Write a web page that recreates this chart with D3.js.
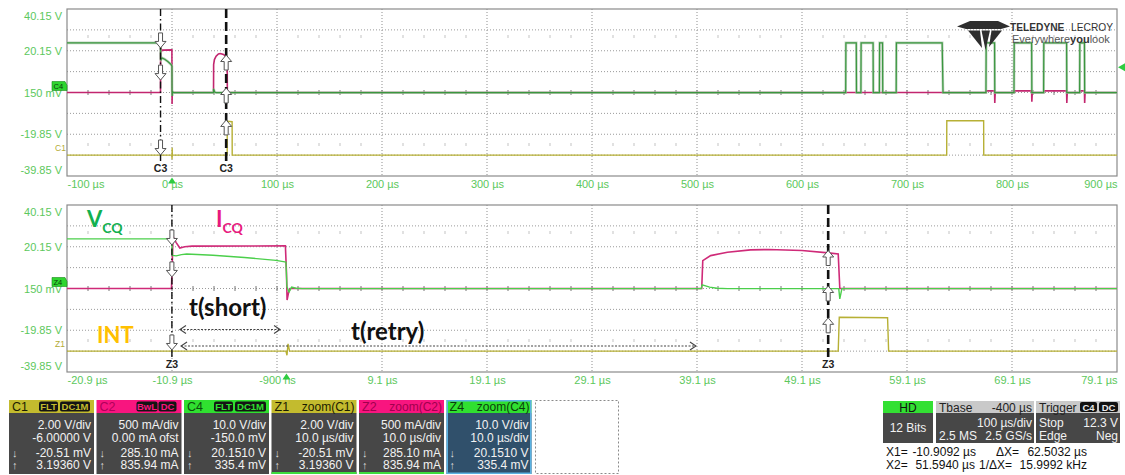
<!DOCTYPE html>
<html><head><meta charset="utf-8">
<script src="https://cdn.jsdelivr.net/npm/d3@7"></script>
<style>
body{margin:0;background:#fff;}
svg{display:block;font-family:"Liberation Sans",Arial,sans-serif;}
</style></head><body>
<svg id="c" width="1125" height="475"></svg>
<script>
// ---------------- data ----------------
// C4 / Z4 : V(CQ) in volts, time in microseconds
const vcqTime = [-100, -10.95, -10.85, -10.5, -10.0, -9.5, -7.0, -4.0, -1.0, -0.3, -0.05, 0.05, 0.25, 0.5, 0.9, 1.5,
  39.5, 39.6, 40.3, 41.0, 42.0, 52.6, 52.7, 52.9,
  641.6, 641.8, 651.7, 651.9, 656.1, 656.3, 667.7, 667.9, 673.7, 673.9, 676.7, 676.9,
  689.7, 689.9, 733.5, 734.3, 775.2, 775.4, 783.4, 783.6, 801.9, 802.1, 818.7, 818.9,
  830.1, 830.3, 852.0, 852.2, 864.4, 864.6, 869.0, 869.2, 900];
const vcqVolt = [23.9, 23.9, 16.0, 15.8, 16.4, 16.7, 16.1, 15.0, 13.6, 13.0, 12.8, 1.0, -1.5, 0.8, 0.3, 0.1,
  0.1, 1.9, 0.8, 0.3, 0.1, 0.1, -4.8, 0.1,
  0.1, 23.9, 23.9, 0.1, 0.1, 23.9, 23.9, 0.1, 0.1, 23.9, 23.9, 0.1,
  0.1, 23.9, 23.9, 0.1, 0.1, 23.9, 23.9, 0.1, 0.1, 23.9, 23.9, 0.1,
  0.1, 23.9, 23.9, 0.1, 0.1, 23.9, 23.9, 0.1, 0.1];
// C2 / Z2 : I(CQ) in mA
const icqTime = [-100, -10.95, -10.8, -10.5, -10.15, -9.7, -9.0, -0.1, 0.0, 0.06, 0.2, 0.35,
  39.55, 39.65, 40.4, 42.0, 44.2, 45.9, 49.1, 51.6, 52.55, 52.7, 53.0,
  775.2, 775.4, 783.4, 783.6, 784.0, 801.9, 802.1, 818.7, 818.9, 819.3,
  830.1, 830.3, 852.0, 852.2, 852.6, 864.4, 864.6, 869.0, 869.2, 869.6, 900];
const icqMilliamp = [0, 0, 1240, 1100, 970, 1000, 1015, 1020, 400, -275, -100, 0,
  0, 668, 788, 870, 925, 934, 910, 853, 829, 0, 0,
  0, 40, 40, -250, 0, 0, 40, 40, -220, 0,
  0, 40, 40, -250, 0, 0, 40, 40, -250, 0, 0];
// C1 / Z1 : INT in volts
const intTime = [-100, -0.05, 0.05, 0.15, 0.3, 52.55, 52.65, 57.25, 57.35, 737.8, 737.9, 773.0, 773.1, 900];
const intVolt = [0, 0, -0.4, 0.7, 0, 0, 3.25, 3.2, 0, 0, 3.3, 3.3, 0, 0];

const topTickValues = [-100, 0, 100, 200, 300, 400, 500, 600, 700, 800, 900];
const topTickLabels = ["-100 µs","0 µs","100 µs","200 µs","300 µs","400 µs","500 µs","600 µs","700 µs","800 µs","900 µs"];
const botTickValues = [-20.9, -10.9, -0.9, 9.1, 19.1, 29.1, 39.1, 49.1, 59.1, 69.1, 79.1];
const botTickLabels = ["-20.9 µs","-10.9 µs","-900 ns","9.1 µs","19.1 µs","29.1 µs","39.1 µs","49.1 µs","59.1 µs","69.1 µs","79.1 µs"];
const yTickValues = [40.15, 20.15, 0.15, -19.85, -39.85];
const yTickLabels = ["40.15 V","20.15 V","150 mV","-19.85 V","-39.85 V"];

const cursorTimes = [-10.9092, 51.5940];
// cursor/trace marker levels (in C4 volts) for [cursor1, cursor2]
const topMarkers = [[21.5, 6.1, -29.8], [18.1, 2.3, -13.0]];
const botMarkers = [[21.0, 5.7, -29.3], [18.35, 1.35, -13.9]];
const shortSpan = [-10.14, -0.61];
const retrySpan = [-10.04, 39.0];
const triggerLevel = 12.3;

// ---------------- drawing ----------------
const svg = d3.select("#c");
const L = 67, R = 1117;
const C_GREEN_TOP = "#3a973f", C_GREEN_BOT = "#4bcf4b", C_YEL = "#b7b035";
const LABEL_GREEN = "#5cc85c";

const zip = (a, b) => a.map((t, i) => [t, b[i]]);
const vcq = zip(vcqTime, vcqVolt), icq = zip(icqTime, icqMilliamp), intr = zip(intTime, intVolt);

const panels = [
  {id:"top", top:9, bottom:176, x:d3.scaleLinear().domain([-100, 900]).range([L, R]),
   ticks:topTickValues, labels:topTickLabels, tag:"C4", tag2:"C1", cl:"C3", green:C_GREEN_TOP, pink:"#c2266f", markers:topMarkers},
  {id:"bot", top:205, bottom:372, x:d3.scaleLinear().domain([-20.9, 79.1]).range([L, R]),
   ticks:botTickValues, labels:botTickLabels, tag:"Z4", tag2:"Z1", cl:"Z3", green:C_GREEN_BOT, pink:"#cf2a78", markers:botMarkers}
];

const defs = svg.append("defs");

panels.forEach(p => {
  const g = svg.append("g");
  const yV = d3.scaleLinear().domain([-39.85, 40.15]).range([p.bottom, p.top]);
  const yI = d3.scaleLinear().domain([-2000, 2000]).range([p.bottom, p.top]);
  const yC1 = d3.scaleLinear().domain([-2, 14]).range([p.bottom, p.top]);
  const x = p.x;
  const h = p.bottom - p.top, w = R - L;
  const cy = (p.top + p.bottom) / 2;

  defs.append("clipPath").attr("id", "clip-" + p.id)
    .append("rect").attr("x", L).attr("y", p.top).attr("width", w).attr("height", h);

  // grid
  const grid = g.append("g");
  d3.range(1, 10).forEach(i => {
    grid.append("line").attr("x1", L + i * w / 10).attr("x2", L + i * w / 10)
      .attr("y1", p.top).attr("y2", p.bottom)
      .attr("stroke", "#8f8f8f").attr("stroke-width", 1).attr("stroke-dasharray", "1,2");
  });
  d3.range(1, 8).forEach(i => {
    grid.append("line").attr("x1", L).attr("x2", R)
      .attr("y1", p.top + i * h / 8).attr("y2", p.top + i * h / 8)
      .attr("stroke", "#9a9a9a").attr("stroke-width", 1).attr("stroke-dasharray", "1,2");
  });
  d3.range(1, 50).forEach(k => {
    const xx = L + k * w / 50;
    grid.append("line").attr("x1", xx).attr("x2", xx).attr("y1", cy - 2.5).attr("y2", cy + 2.5)
      .attr("stroke", "#777").attr("stroke-width", 1);
    if (k % 5 !== 0) {
      [p.top + 27.5, p.top + 135.5].forEach(yy => {
        grid.append("rect").attr("x", xx - 0.5).attr("y", yy - 1.5).attr("width", 1).attr("height", 3)
          .attr("fill", "#c4c4c4");
      });
    }
  });
  g.append("rect").attr("x", L).attr("y", p.top).attr("width", w).attr("height", h)
    .attr("fill", "none").attr("stroke", "#8a8a8a").attr("stroke-width", 1.2);

  // traces
  const tr = g.append("g").attr("clip-path", `url(#clip-${p.id})`);
  tr.append("path").datum(intr)
    .attr("d", d3.line().x(d => x(d[0])).y(d => yC1(d[1])))
    .attr("fill", "none").attr("stroke", C_YEL).attr("stroke-width", 1.4);
  tr.append("path").datum(icq)
    .attr("d", d3.line().x(d => x(d[0])).y(d => yI(d[1])))
    .attr("fill", "none").attr("stroke", p.pink).attr("stroke-width", 1.6);
  if (p.id === "top") {
    tr.append("path").datum(vcq)
      .attr("d", d3.line().x(d => x(d[0])).y(d => yV(d[1])))
      .attr("fill", "none").attr("stroke", "#9fbf9f").attr("stroke-width", 2.6).attr("opacity", 0.7);
  }
  tr.append("path").datum(vcq)
    .attr("d", d3.line().x(d => x(d[0])).y(d => yV(d[1])))
    .attr("fill", "none").attr("stroke", p.green).attr("stroke-width", p.id === "top" ? 1.2 : 1.4);

  // cursors
  const cur = g.append("g");
  cursorTimes.forEach((t, ci) => {
    const cx = x(t);
    cur.append("line").attr("x1", cx).attr("x2", cx).attr("y1", p.top).attr("y2", p.bottom - 12)
      .attr("stroke", "#111").attr("stroke-width", ci === 0 ? 1.4 : 2.6)
      .attr("stroke-dasharray", ci === 0 ? "7,3,1.5,3" : "9,4");
    const down = ci === 0;
    p.markers[ci].forEach(v => {
      const ty = yV(v);
      const s = down ? -1 : 1;
      const d = `M${cx-2},${ty + s*15} L${cx+2},${ty + s*15} L${cx+2},${ty + s*6.5} L${cx+5.5},${ty + s*6.5} L${cx},${ty} L${cx-5.5},${ty + s*6.5} L${cx-2},${ty + s*6.5} Z`;
      cur.append("path").attr("d", d).attr("fill", "#fff").attr("stroke", "#555").attr("stroke-width", 1);
    });
    cur.append("text").attr("x", cx).attr("y", p.bottom - 4).attr("text-anchor", "middle")
      .attr("font-size", 10.5).attr("font-weight", "bold").attr("fill", "#222").text(p.cl);
  });

  // x axis
  const ax = g.append("g").attr("transform", `translate(0,${p.bottom})`)
    .call(d3.axisBottom(x).tickValues(p.ticks).tickFormat((d, i) => p.labels[i]).tickSize(0));
  ax.select(".domain").remove();
  ax.selectAll("text").attr("y", 8).attr("dy", "0.35em").attr("font-size", 11)
    .attr("fill", LABEL_GREEN).attr("font-family", "Liberation Sans, Arial, sans-serif")
    .attr("text-anchor", (d, i) => i === 0 ? "start" : (i === p.ticks.length - 1 ? "end" : "middle"));

  // y axis
  const ay = g.append("g").attr("transform", `translate(${L},0)`)
    .call(d3.axisLeft(yV).tickValues(yTickValues).tickFormat((d, i) => yTickLabels[i]).tickSize(0).tickPadding(5));
  ay.select(".domain").remove();
  ay.selectAll("text").attr("font-size", 11).attr("fill", LABEL_GREEN)
    .attr("font-family", "Liberation Sans, Arial, sans-serif")
    .attr("y", (d, i) => i === 0 ? 7 : (i === yTickValues.length - 1 ? -6 : 0));

  // channel tags
  const tg = g.append("g");
  tg.append("path").attr("d", `M${L-15},${yV(0.15)-11} h13 l2,4 v5 h-15 z`).attr("fill", "#2fd52f").attr("stroke", "#1a8a1a").attr("stroke-width", 0.6);
  tg.append("text").attr("x", L - 13.5).attr("y", yV(0.15) - 4).attr("font-size", 7.5).attr("fill", "#0d3d0d").text(p.tag);
  tg.append("text").attr("x", L - 12).attr("y", yC1(0) - 4).attr("font-size", 8.5).attr("fill", "#b3ab35").text(p.tag2);

  // trigger marker on time axis
  g.append("path").attr("d", `M${x(0)},${p.bottom + 1.5} l4,6 h-8 z`).attr("fill", "#2ecc40");
  if (p.id === "top") {
    const ty = yV(triggerLevel);
    g.append("path").attr("d", `M${R + 1},${ty} l7,-4 v8 z`).attr("fill", "#2ecc40");
  }

  // annotations in zoom panel
  if (p.id === "bot") {
    const an = g.append("g").attr("font-family", "Lato, 'Open Sans', sans-serif").attr("font-weight", "bold");
    const v = an.append("text").attr("x", 87).attr("y", 227).attr("fill", "#12b050").attr("font-size", 22);
    v.append("tspan").text("V");
    v.append("tspan").attr("font-size", 14).attr("dy", 6).text("CQ");
    const ic = an.append("text").attr("x", 216).attr("y", 227).attr("fill", "#e8197e").attr("font-size", 22);
    ic.append("tspan").text("I");
    ic.append("tspan").attr("font-size", 14).attr("dy", 6).text("CQ");
    an.append("text").attr("x", 97).attr("y", 343).attr("fill", "#ffc000").attr("font-size", 22).text("INT");
    an.append("text").attr("x", 189).attr("y", 316).attr("fill", "#111").attr("font-size", 24).text("t(short)");
    an.append("text").attr("x", 351).attr("y", 340).attr("fill", "#111").attr("font-size", 24).text("t(retry)");

    const arrowLine = (t0, t1, yy) => {
      const x0 = x(t0), x1 = x(t1);
      an.append("line").attr("x1", x0).attr("x2", x1).attr("y1", yy).attr("y2", yy)
        .attr("stroke", "#444").attr("stroke-width", 1.1).attr("stroke-dasharray", "2,1.5");
      an.append("path").attr("d", `M${x0+6},${yy-4} L${x0},${yy} L${x0+6},${yy+4}`)
        .attr("fill", "none").attr("stroke", "#444").attr("stroke-width", 1.1);
      an.append("path").attr("d", `M${x1-6},${yy-4} L${x1},${yy} L${x1-6},${yy+4}`)
        .attr("fill", "none").attr("stroke", "#444").attr("stroke-width", 1.1);
    };
    arrowLine(shortSpan[0], shortSpan[1], 329.5);
    arrowLine(retrySpan[0], retrySpan[1], 346);
  }
});

// ---------------- logo ----------------
const logo = svg.append("g").attr("fill", "#2e2e2e");
logo.append("path").attr("d", "M957,26.5 L970,21 L998,21 L1010,26.5 L1001,29 L966,29 Z");
logo.append("path").attr("d", "M968,30.5 L980,30.5 L982,48 Z");
logo.append("path").attr("d", "M981.5,30.5 L990,30.5 L985.5,50 Z");
logo.append("path").attr("d", "M991.5,30.5 L1002,30.5 L989,47 Z");
logo.append("text").attr("x", 1010).attr("y", 31).attr("font-size", 10.2).attr("font-weight", "bold")
  .attr("fill", "#333").text("TELEDYNE");
logo.append("text").attr("x", 1113).attr("y", 31).attr("text-anchor", "end").attr("font-size", 10.2)
  .attr("fill", "#333").text("LECROY");
const lt2 = logo.append("text").attr("x", 1012).attr("y", 42.5).attr("font-size", 11).attr("fill", "#555");
lt2.append("tspan").text("Everywhere");
lt2.append("tspan").attr("font-weight", "bold").attr("fill", "#333").text("you");
lt2.append("tspan").text("look");

// ---------------- info boxes ----------------
const boxes = [
  {x:9, name:"C1", right:"", hc:"#c3bb2e", tc:"#1c1c00", tags:[["FLT",30,19],["DC1M",51,30]], tagc:"#c3bb2e", body:"#474747", rows:["2.00 V/div","-6.00000 V","-20.51 mV","3.19360 V"]},
  {x:96.5, name:"C2", right:"", hc:"#f8157f", tc:"#b0005a", tags:[["BwL",40,21],["DC",62,18]], tagc:"#f8157f", body:"#474747", rows:["500 mA/div","0.00 mA ofst","285.10 mA","835.94 mA"]},
  {x:184, name:"C4", right:"", hc:"#30e030", tc:"#0b4d0b", tags:[["FLT",30,19],["DC1M",51,31]], tagc:"#30e030", body:"#474747", rows:["10.0 V/div","-150.0 mV","20.1510 V","335.4 mV"]},
  {x:271.5, name:"Z1", right:"zoom(C1)", hc:"#c3bb2e", tc:"#1c1c00", tags:[], body:"#474747", rows:["2.00 V/div","10.0 µs/div","-20.51 mV","3.19360 V"], gb:true},
  {x:359, name:"Z2", right:"zoom(C2)", hc:"#f8157f", tc:"#a0004e", tags:[], body:"#474747", rows:["500 mA/div","10.0 µs/div","285.10 mA","835.94 mA"], gb:true},
  {x:446.5, name:"Z4", right:"zoom(C4)", hc:"#30e030", tc:"#0b3d0b", tags:[], body:"#30506b", rows:["10.0 V/div","10.0 µs/div","20.1510 V","335.4 mV"], blue:true}
];
const BW = 85, HY = 400, HH = 13, BY = 413, BB = 474;
const ib = svg.append("g").attr("font-family", "Liberation Sans, Arial, sans-serif");
boxes.forEach(b => {
  ib.append("rect").attr("x", b.x).attr("y", BY).attr("width", BW).attr("height", BB - BY).attr("fill", b.body);
  ib.append("rect").attr("x", b.x).attr("y", HY).attr("width", BW).attr("height", HH).attr("fill", b.hc);
  ib.append("text").attr("x", b.x + 3).attr("y", HY + 11).attr("font-size", 12.5).attr("fill", b.tc).text(b.name);
  if (b.right) ib.append("text").attr("x", b.x + BW - 2).attr("y", HY + 11).attr("text-anchor", "end")
    .attr("font-size", 12).attr("fill", b.tc).text(b.right);
  b.tags.forEach(([t, dx, tw]) => {
    ib.append("rect").attr("x", b.x + dx).attr("y", HY + 1.5).attr("width", tw).attr("height", 10).attr("rx", 2).attr("fill", "#141414");
    ib.append("text").attr("x", b.x + dx + tw / 2).attr("y", HY + 10).attr("text-anchor", "middle")
      .attr("font-size", 9.5).attr("font-weight", "bold").attr("fill", b.tagc).text(t);
  });
  const ys = [429, 441.5, 457, 469];
  b.rows.forEach((r, i) => {
    ib.append("text").attr("x", b.x + BW - 3).attr("y", ys[i]).attr("text-anchor", "end")
      .attr("font-size", 12).attr("fill", "#f2f2f2").text(r);
  });
  ib.append("text").attr("x", b.x + 3).attr("y", 457).attr("font-size", 11).attr("fill", "#ddd").text("↓");
  ib.append("text").attr("x", b.x + 3).attr("y", 469).attr("font-size", 11).attr("fill", "#ddd").text("↑");
  if (b.gb) ib.append("rect").attr("x", b.x).attr("y", BB - 2).attr("width", BW).attr("height", 2).attr("fill", "#3ddc3d");
  if (b.blue) ib.append("rect").attr("x", b.x + 0.75).attr("y", HY + 0.75).attr("width", BW - 1.5).attr("height", BB - HY - 1.5)
    .attr("fill", "none").attr("stroke", "#5ab2e2").attr("stroke-width", 1.5);
});
ib.append("rect").attr("x", 535.5).attr("y", 400.5).attr("width", 83).attr("height", 73)
  .attr("fill", "none").attr("stroke", "#8a8a8a").attr("stroke-dasharray", "2,2");

// right status
const st = svg.append("g").attr("font-family", "Liberation Sans, Arial, sans-serif");
st.append("rect").attr("x", 883).attr("y", 401).attr("width", 50).attr("height", 42).attr("fill", "#474747");
st.append("rect").attr("x", 883).attr("y", 401).attr("width", 50).attr("height", 12).attr("fill", "#33e033");
st.append("text").attr("x", 908).attr("y", 411.5).attr("text-anchor", "middle").attr("font-size", 12).attr("fill", "#111").text("HD");
st.append("text").attr("x", 908).attr("y", 432).attr("text-anchor", "middle").attr("font-size", 12).attr("fill", "#f2f2f2").text("12 Bits");
st.append("rect").attr("x", 936).attr("y", 401).attr("width", 98).attr("height", 42).attr("fill", "#474747");
st.append("rect").attr("x", 936).attr("y", 401).attr("width", 98).attr("height", 12).attr("fill", "#c9c9c9");
st.append("text").attr("x", 939).attr("y", 411.5).attr("font-size", 12).attr("fill", "#222").text("Tbase");
st.append("text").attr("x", 1032).attr("y", 411.5).attr("text-anchor", "end").attr("font-size", 12).attr("fill", "#222").text("-400 µs");
st.append("text").attr("x", 1032).attr("y", 427).attr("text-anchor", "end").attr("font-size", 12).attr("fill", "#f2f2f2").text("100 µs/div");
st.append("text").attr("x", 939).attr("y", 440).attr("font-size", 12).attr("fill", "#f2f2f2").text("2.5 MS");
st.append("text").attr("x", 1032).attr("y", 440).attr("text-anchor", "end").attr("font-size", 12).attr("fill", "#f2f2f2").text("2.5 GS/s");
st.append("rect").attr("x", 1036).attr("y", 401).attr("width", 84).attr("height", 42).attr("fill", "#474747");
st.append("rect").attr("x", 1036).attr("y", 401).attr("width", 84).attr("height", 12).attr("fill", "#c9c9c9");
st.append("text").attr("x", 1039).attr("y", 411.5).attr("font-size", 12).attr("fill", "#222").text("Trigger");
[["C4", 1080, 17], ["DC", 1099, 19]].forEach(([t, xx, tw]) => {
  st.append("rect").attr("x", xx).attr("y", 402).attr("width", tw).attr("height", 10).attr("rx", 2).attr("fill", "#111");
  st.append("text").attr("x", xx + tw / 2).attr("y", 410.5).attr("text-anchor", "middle").attr("font-size", 9.5)
    .attr("font-weight", "bold").attr("fill", "#e8e8e8").text(t);
});
st.append("text").attr("x", 1039).attr("y", 427).attr("font-size", 12).attr("fill", "#f2f2f2").text("Stop");
st.append("text").attr("x", 1118).attr("y", 427).attr("text-anchor", "end").attr("font-size", 12).attr("fill", "#f2f2f2").text("12.3 V");
st.append("text").attr("x", 1039).attr("y", 440).attr("font-size", 12).attr("fill", "#f2f2f2").text("Edge");
st.append("text").attr("x", 1118).attr("y", 440).attr("text-anchor", "end").attr("font-size", 12).attr("fill", "#f2f2f2").text("Neg");
const ro = [
  [["X1=", 886, "start"], ["-10.9092 µs", 976, "end"], ["ΔX=", 996, "start"], ["62.5032 µs", 1087, "end"]],
  [["X2=", 886, "start"], ["51.5940 µs", 975, "end"], ["1/ΔX=", 979, "start"], ["15.9992 kHz", 1087, "end"]]
];
ro.forEach((row, i) => row.forEach(([t, xx, a]) => {
  st.append("text").attr("x", xx).attr("y", 455.5 + i * 13).attr("text-anchor", a).attr("font-size", 12).attr("fill", "#111").text(t);
}));
</script>
</body></html>
